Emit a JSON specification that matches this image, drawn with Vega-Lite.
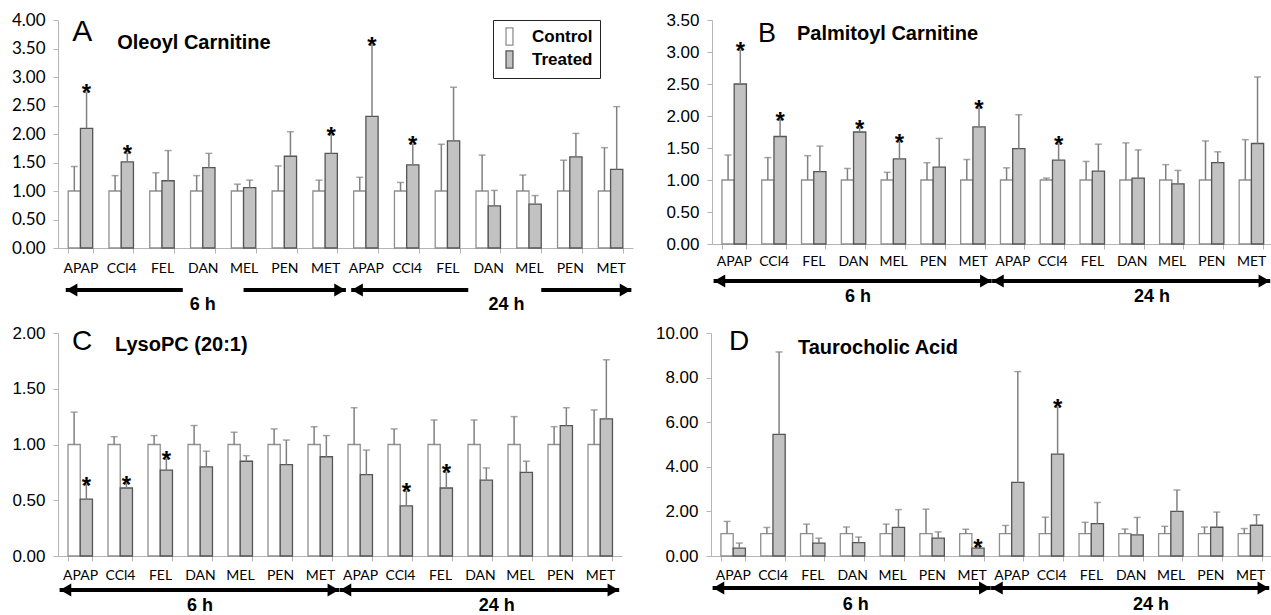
{
"$schema":"https://vega.github.io/schema/vega-lite/v6.json",
"background":"white",
"padding":{"left":11,"top":11,"right":0,"bottom":0},
"datasets":{
"bars":[
{"p":"A","c":"6h|APAP","g":"Control","v":1,"e":1.43,"s":0},{"p":"A","c":"6h|APAP","g":"Treated","v":2.10,"e":2.73,"s":1},
{"p":"A","c":"6h|CCl4","g":"Control","v":1,"e":1.27,"s":0},{"p":"A","c":"6h|CCl4","g":"Treated","v":1.51,"e":1.66,"s":1},
{"p":"A","c":"6h|FEL","g":"Control","v":1,"e":1.32,"s":0},{"p":"A","c":"6h|FEL","g":"Treated","v":1.18,"e":1.71,"s":0},
{"p":"A","c":"6h|DAN","g":"Control","v":1,"e":1.27,"s":0},{"p":"A","c":"6h|DAN","g":"Treated","v":1.41,"e":1.66,"s":0},
{"p":"A","c":"6h|MEL","g":"Control","v":1,"e":1.12,"s":0},{"p":"A","c":"6h|MEL","g":"Treated","v":1.06,"e":1.19,"s":0},
{"p":"A","c":"6h|PEN","g":"Control","v":1,"e":1.44,"s":0},{"p":"A","c":"6h|PEN","g":"Treated","v":1.61,"e":2.04,"s":0},
{"p":"A","c":"6h|MET","g":"Control","v":1,"e":1.19,"s":0},{"p":"A","c":"6h|MET","g":"Treated","v":1.66,"e":1.99,"s":1},
{"p":"A","c":"24h|APAP","g":"Control","v":1,"e":1.24,"s":0},{"p":"A","c":"24h|APAP","g":"Treated","v":2.31,"e":3.56,"s":1},
{"p":"A","c":"24h|CCl4","g":"Control","v":1,"e":1.15,"s":0},{"p":"A","c":"24h|CCl4","g":"Treated","v":1.46,"e":1.82,"s":1},
{"p":"A","c":"24h|FEL","g":"Control","v":1,"e":1.82,"s":0},{"p":"A","c":"24h|FEL","g":"Treated","v":1.88,"e":2.82,"s":0},
{"p":"A","c":"24h|DAN","g":"Control","v":1,"e":1.63,"s":0},{"p":"A","c":"24h|DAN","g":"Treated","v":0.74,"e":1.01,"s":0},
{"p":"A","c":"24h|MEL","g":"Control","v":1,"e":1.28,"s":0},{"p":"A","c":"24h|MEL","g":"Treated","v":0.77,"e":0.92,"s":0},
{"p":"A","c":"24h|PEN","g":"Control","v":1,"e":1.54,"s":0},{"p":"A","c":"24h|PEN","g":"Treated","v":1.60,"e":2.01,"s":0},
{"p":"A","c":"24h|MET","g":"Control","v":1,"e":1.76,"s":0},{"p":"A","c":"24h|MET","g":"Treated","v":1.38,"e":2.48,"s":0},
{"p":"B","c":"6h|APAP","g":"Control","v":1,"e":1.39,"s":0},{"p":"B","c":"6h|APAP","g":"Treated","v":2.50,"e":3.03,"s":1},
{"p":"B","c":"6h|CCl4","g":"Control","v":1,"e":1.35,"s":0},{"p":"B","c":"6h|CCl4","g":"Treated","v":1.68,"e":1.94,"s":1},
{"p":"B","c":"6h|FEL","g":"Control","v":1,"e":1.38,"s":0},{"p":"B","c":"6h|FEL","g":"Treated","v":1.13,"e":1.53,"s":0},
{"p":"B","c":"6h|DAN","g":"Control","v":1,"e":1.18,"s":0},{"p":"B","c":"6h|DAN","g":"Treated","v":1.75,"e":1.81,"s":1},
{"p":"B","c":"6h|MEL","g":"Control","v":1,"e":1.12,"s":0},{"p":"B","c":"6h|MEL","g":"Treated","v":1.33,"e":1.60,"s":1},
{"p":"B","c":"6h|PEN","g":"Control","v":1,"e":1.27,"s":0},{"p":"B","c":"6h|PEN","g":"Treated","v":1.20,"e":1.65,"s":0},
{"p":"B","c":"6h|MET","g":"Control","v":1,"e":1.32,"s":0},{"p":"B","c":"6h|MET","g":"Treated","v":1.83,"e":2.12,"s":1},
{"p":"B","c":"24h|APAP","g":"Control","v":1,"e":1.19,"s":0},{"p":"B","c":"24h|APAP","g":"Treated","v":1.49,"e":2.02,"s":0},
{"p":"B","c":"24h|CCl4","g":"Control","v":1,"e":1.03,"s":0},{"p":"B","c":"24h|CCl4","g":"Treated","v":1.31,"e":1.56,"s":1},
{"p":"B","c":"24h|FEL","g":"Control","v":1,"e":1.29,"s":0},{"p":"B","c":"24h|FEL","g":"Treated","v":1.14,"e":1.56,"s":0},
{"p":"B","c":"24h|DAN","g":"Control","v":1,"e":1.58,"s":0},{"p":"B","c":"24h|DAN","g":"Treated","v":1.03,"e":1.47,"s":0},
{"p":"B","c":"24h|MEL","g":"Control","v":1,"e":1.24,"s":0},{"p":"B","c":"24h|MEL","g":"Treated","v":0.94,"e":1.15,"s":0},
{"p":"B","c":"24h|PEN","g":"Control","v":1,"e":1.61,"s":0},{"p":"B","c":"24h|PEN","g":"Treated","v":1.27,"e":1.44,"s":0},
{"p":"B","c":"24h|MET","g":"Control","v":1,"e":1.63,"s":0},{"p":"B","c":"24h|MET","g":"Treated","v":1.57,"e":2.61,"s":0},
{"p":"C","c":"6h|APAP","g":"Control","v":1,"e":1.29,"s":0},{"p":"C","c":"6h|APAP","g":"Treated","v":0.51,"e":0.64,"s":1},
{"p":"C","c":"6h|CCl4","g":"Control","v":1,"e":1.07,"s":0},{"p":"C","c":"6h|CCl4","g":"Treated","v":0.61,"e":0.65,"s":1},
{"p":"C","c":"6h|FEL","g":"Control","v":1,"e":1.08,"s":0},{"p":"C","c":"6h|FEL","g":"Treated","v":0.77,"e":0.87,"s":1},
{"p":"C","c":"6h|DAN","g":"Control","v":1,"e":1.17,"s":0},{"p":"C","c":"6h|DAN","g":"Treated","v":0.80,"e":0.94,"s":0},
{"p":"C","c":"6h|MEL","g":"Control","v":1,"e":1.11,"s":0},{"p":"C","c":"6h|MEL","g":"Treated","v":0.85,"e":0.90,"s":0},
{"p":"C","c":"6h|PEN","g":"Control","v":1,"e":1.14,"s":0},{"p":"C","c":"6h|PEN","g":"Treated","v":0.82,"e":1.04,"s":0},
{"p":"C","c":"6h|MET","g":"Control","v":1,"e":1.16,"s":0},{"p":"C","c":"6h|MET","g":"Treated","v":0.89,"e":1.08,"s":0},
{"p":"C","c":"24h|APAP","g":"Control","v":1,"e":1.33,"s":0},{"p":"C","c":"24h|APAP","g":"Treated","v":0.73,"e":0.95,"s":0},
{"p":"C","c":"24h|CCl4","g":"Control","v":1,"e":1.14,"s":0},{"p":"C","c":"24h|CCl4","g":"Treated","v":0.45,"e":0.58,"s":1},
{"p":"C","c":"24h|FEL","g":"Control","v":1,"e":1.22,"s":0},{"p":"C","c":"24h|FEL","g":"Treated","v":0.61,"e":0.75,"s":1},
{"p":"C","c":"24h|DAN","g":"Control","v":1,"e":1.22,"s":0},{"p":"C","c":"24h|DAN","g":"Treated","v":0.68,"e":0.79,"s":0},
{"p":"C","c":"24h|MEL","g":"Control","v":1,"e":1.25,"s":0},{"p":"C","c":"24h|MEL","g":"Treated","v":0.75,"e":0.85,"s":0},
{"p":"C","c":"24h|PEN","g":"Control","v":1,"e":1.16,"s":0},{"p":"C","c":"24h|PEN","g":"Treated","v":1.17,"e":1.33,"s":0},
{"p":"C","c":"24h|MET","g":"Control","v":1,"e":1.31,"s":0},{"p":"C","c":"24h|MET","g":"Treated","v":1.23,"e":1.76,"s":0},
{"p":"D","c":"6h|APAP","g":"Control","v":1,"e":1.55,"s":0},{"p":"D","c":"6h|APAP","g":"Treated","v":0.35,"e":0.58,"s":0},
{"p":"D","c":"6h|CCl4","g":"Control","v":1,"e":1.28,"s":0},{"p":"D","c":"6h|CCl4","g":"Treated","v":5.45,"e":9.15,"s":0},
{"p":"D","c":"6h|FEL","g":"Control","v":1,"e":1.43,"s":0},{"p":"D","c":"6h|FEL","g":"Treated","v":0.58,"e":0.80,"s":0},
{"p":"D","c":"6h|DAN","g":"Control","v":1,"e":1.30,"s":0},{"p":"D","c":"6h|DAN","g":"Treated","v":0.60,"e":0.85,"s":0},
{"p":"D","c":"6h|MEL","g":"Control","v":1,"e":1.43,"s":0},{"p":"D","c":"6h|MEL","g":"Treated","v":1.28,"e":2.08,"s":0},
{"p":"D","c":"6h|PEN","g":"Control","v":1,"e":2.10,"s":0},{"p":"D","c":"6h|PEN","g":"Treated","v":0.80,"e":1.08,"s":0},
{"p":"D","c":"6h|MET","g":"Control","v":1,"e":1.20,"s":0},{"p":"D","c":"6h|MET","g":"Treated","v":0.35,"e":0.40,"s":1},
{"p":"D","c":"24h|APAP","g":"Control","v":1,"e":1.37,"s":0},{"p":"D","c":"24h|APAP","g":"Treated","v":3.30,"e":8.27,"s":0},
{"p":"D","c":"24h|CCl4","g":"Control","v":1,"e":1.74,"s":0},{"p":"D","c":"24h|CCl4","g":"Treated","v":4.57,"e":6.67,"s":1},
{"p":"D","c":"24h|FEL","g":"Control","v":1,"e":1.51,"s":0},{"p":"D","c":"24h|FEL","g":"Treated","v":1.45,"e":2.40,"s":0},
{"p":"D","c":"24h|DAN","g":"Control","v":1,"e":1.21,"s":0},{"p":"D","c":"24h|DAN","g":"Treated","v":0.95,"e":1.73,"s":0},
{"p":"D","c":"24h|MEL","g":"Control","v":1,"e":1.33,"s":0},{"p":"D","c":"24h|MEL","g":"Treated","v":2.00,"e":2.96,"s":0},
{"p":"D","c":"24h|PEN","g":"Control","v":1,"e":1.30,"s":0},{"p":"D","c":"24h|PEN","g":"Treated","v":1.29,"e":1.97,"s":0},
{"p":"D","c":"24h|MET","g":"Control","v":1,"e":1.23,"s":0},{"p":"D","c":"24h|MET","g":"Treated","v":1.38,"e":1.85,"s":0}
],
"arrows":[
{"p":"A","t":"6 h","seg":"L","from":"6h|APAP","to":"6h|FEL","hl":1,"hr":0},
{"p":"A","t":"6 h","seg":"R","from":"6h|MEL","to":"6h|MET","hl":0,"hr":1},
{"p":"A","t":"24 h","seg":"L","from":"24h|APAP","to":"24h|FEL","hl":1,"hr":0},
{"p":"A","t":"24 h","seg":"R","from":"24h|MEL","to":"24h|MET","hl":0,"hr":1},
{"p":"B","t":"6 h","seg":"F","from":"6h|APAP","to":"6h|MET","hl":1,"hr":1},
{"p":"B","t":"24 h","seg":"F","from":"24h|APAP","to":"24h|MET","hl":1,"hr":1},
{"p":"C","t":"6 h","seg":"F","from":"6h|APAP","to":"6h|MET","hl":1,"hr":1},
{"p":"C","t":"24 h","seg":"F","from":"24h|APAP","to":"24h|MET","hl":1,"hr":1},
{"p":"D","t":"6 h","seg":"F","from":"6h|APAP","to":"6h|MET","hl":1,"hr":1},
{"p":"D","t":"24 h","seg":"F","from":"24h|APAP","to":"24h|MET","hl":1,"hr":1}
],
"times":[
{"p":"A","t":"6 h","mid":"6h|DAN"},{"p":"A","t":"24 h","mid":"24h|DAN"},
{"p":"B","t":"6 h","mid":"6h|DAN"},{"p":"B","t":"24 h","mid":"24h|DAN"},
{"p":"C","t":"6 h","mid":"6h|DAN"},{"p":"C","t":"24 h","mid":"24h|DAN"},
{"p":"D","t":"6 h","mid":"6h|DAN"},{"p":"D","t":"24 h","mid":"24h|DAN"}
],
"titles":[
{"p":"A","letter":"A","name":"Oleoyl Carnitine"},
{"p":"B","letter":"B","name":"Palmitoyl Carnitine"},
{"p":"C","letter":"C","name":"LysoPC (20:1)"},
{"p":"D","letter":"D","name":"Taurocholic Acid"}
]
},
"spacing":10,
"resolve":{"scale":{"fill":"independent","stroke":"independent"},"legend":{"fill":"independent","stroke":"independent"}},
"vconcat":[
{"hconcat":[
{"width":575,"height":228,
"layer":[
{"data":{"name":"bars"},"transform":[{"filter":"datum.p=='A'"}],
"mark":{"type":"bar","strokeWidth":1.3},
"encoding":{
"x":{"field":"c","type":"nominal","title":null,"scale":{"domain":["6h|APAP","6h|CCl4","6h|FEL","6h|DAN","6h|MEL","6h|PEN","6h|MET","24h|APAP","24h|CCl4","24h|FEL","24h|DAN","24h|MEL","24h|PEN","24h|MET"],"paddingInner":0.4,"paddingOuter":0.25},"axis":{"labelExpr":"split(datum.value,'|')[1]","tickBand":"extent","labelPadding":8}},
"xOffset":{"field":"g","type":"nominal","scale":{"domain":["Control","Treated"],"paddingInner":0,"paddingOuter":0}},
"y":{"field":"v","type":"quantitative","title":null,"scale":{"domain":[0,4],"nice":false},"axis":{"values":[0,0.5,1,1.5,2,2.5,3,3.5,4],"format":".2f","labelFont":"Lato"}},
"fill":{"field":"g","type":"nominal","scale":{"domain":["Control","Treated"],"range":["#ffffff","#c2c2c2"]},"legend":{"orient":"none","legendX":435,"legendY":0,"title":null,"strokeColor":"#222222","fillColor":"#ffffff","padding":7,"symbolType":"M-0.4,-1H0.4V1H-0.4Z","symbolSize":300,"symbolStrokeColor":"#333333","symbolStrokeWidth":1.3,"labelFont":"Liberation Sans","labelFontWeight":"bold","labelFontSize":17,"labelOffset":13,"rowPadding":0}},
"stroke":{"field":"g","type":"nominal","scale":{"domain":["Control","Treated"],"range":["#8f8f8f","#555555"]},"legend":null}}},
{"data":{"name":"bars"},"transform":[{"filter":"datum.p=='A'"}],
"mark":{"type":"rule","color":"#808080","strokeWidth":1.5},
"encoding":{"x":{"field":"c","type":"nominal","title":null},"xOffset":{"field":"g","type":"nominal"},"y":{"field":"v","type":"quantitative","title":null,"axis":{"values":[0,0.5,1,1.5,2,2.5,3,3.5,4],"format":".2f","labelFont":"Lato"}},"y2":{"field":"e"}}},
{"data":{"name":"bars"},"transform":[{"filter":"datum.p=='A'"}],
"mark":{"type":"tick","color":"#808080","size":7,"thickness":1.5},
"encoding":{"x":{"field":"c","type":"nominal","title":null},"xOffset":{"field":"g","type":"nominal"},"y":{"field":"e","type":"quantitative","title":null,"axis":{"values":[0,0.5,1,1.5,2,2.5,3,3.5,4],"format":".2f","labelFont":"Lato"}}}},
{"data":{"name":"bars"},"transform":[{"filter":"datum.p=='A' && datum.s==1"}],
"mark":{"type":"text","text":"*","fontSize":24,"fontWeight":"bold","baseline":"alphabetic","dy":9,"font":"Liberation Sans","color":"#000000"},
"encoding":{"x":{"field":"c","type":"nominal","title":null},"xOffset":{"field":"g","type":"nominal"},"y":{"field":"e","type":"quantitative","title":null,"axis":{"values":[0,0.5,1,1.5,2,2.5,3,3.5,4],"format":".2f","labelFont":"Lato"}}}},
{"data":{"name":"arrows"},"transform":[{"filter":"datum.p=='A' && datum.seg=='L'"}],
"mark":{"type":"rule","color":"#000000","strokeWidth":4,"yOffset":42},
"encoding":{"x":{"field":"from","type":"nominal","bandPosition":-0.1,"title":null},"x2":{"field":"to","bandPosition":1.35},"y":{"datum":0,"title":null,"axis":{"values":[0,0.5,1,1.5,2,2.5,3,3.5,4],"format":".2f","labelFont":"Lato"}}}},
{"data":{"name":"arrows"},"transform":[{"filter":"datum.p=='A' && datum.seg=='R' && datum.t=='6 h'"}],
"mark":{"type":"rule","color":"#000000","strokeWidth":4,"yOffset":42},
"encoding":{"x":{"field":"from","type":"nominal","bandPosition":0.5,"title":null},"x2":{"field":"to","bandPosition":1.35},"y":{"datum":0,"title":null,"axis":{"values":[0,0.5,1,1.5,2,2.5,3,3.5,4],"format":".2f","labelFont":"Lato"}}}},
{"data":{"name":"arrows"},"transform":[{"filter":"datum.p=='A' && datum.seg=='R' && datum.t=='24 h'"}],
"mark":{"type":"rule","color":"#000000","strokeWidth":4,"yOffset":42},
"encoding":{"x":{"field":"from","type":"nominal","bandPosition":1.0,"title":null},"x2":{"field":"to","bandPosition":1.35},"y":{"datum":0,"title":null,"axis":{"values":[0,0.5,1,1.5,2,2.5,3,3.5,4],"format":".2f","labelFont":"Lato"}}}},
{"data":{"name":"arrows"},"transform":[{"filter":"datum.p=='A' && datum.hl==1"}],
"mark":{"type":"point","shape":"triangle-left","size":170,"filled":true,"color":"#000000","opacity":1,"xOffset":6,"yOffset":42},
"encoding":{"x":{"field":"from","type":"nominal","bandPosition":-0.1,"title":null},"y":{"datum":0,"title":null,"axis":{"values":[0,0.5,1,1.5,2,2.5,3,3.5,4],"format":".2f","labelFont":"Lato"}}}},
{"data":{"name":"arrows"},"transform":[{"filter":"datum.p=='A' && datum.hr==1"}],
"mark":{"type":"point","shape":"triangle-right","size":170,"filled":true,"color":"#000000","opacity":1,"xOffset":-6,"yOffset":42},
"encoding":{"x":{"field":"to","type":"nominal","bandPosition":1.35,"title":null},"y":{"datum":0,"title":null,"axis":{"values":[0,0.5,1,1.5,2,2.5,3,3.5,4],"format":".2f","labelFont":"Lato"}}}},
{"data":{"name":"times"},"transform":[{"filter":"datum.p=='A' && datum.t=='6 h'"}],
"mark":{"type":"text","fontSize":18,"fontWeight":"bold","font":"Liberation Sans","baseline":"middle","dy":57,"color":"#000000"},
"encoding":{"x":{"field":"mid","type":"nominal","bandPosition":0.5,"title":null},"y":{"datum":0,"title":null,"axis":{"values":[0,0.5,1,1.5,2,2.5,3,3.5,4],"format":".2f","labelFont":"Lato"}},"text":{"field":"t"}}},
{"data":{"name":"times"},"transform":[{"filter":"datum.p=='A' && datum.t=='24 h'"}],
"mark":{"type":"text","fontSize":18,"fontWeight":"bold","font":"Liberation Sans","baseline":"middle","dy":57,"color":"#000000"},
"encoding":{"x":{"field":"mid","type":"nominal","bandPosition":1.25,"title":null},"y":{"datum":0,"title":null,"axis":{"values":[0,0.5,1,1.5,2,2.5,3,3.5,4],"format":".2f","labelFont":"Lato"}},"text":{"field":"t"}}},
{"data":{"name":"titles"},"transform":[{"filter":"datum.p=='A'"}],
"mark":{"type":"text","fontSize":30,"font":"Liberation Sans","align":"left","baseline":"middle","dx":4,"dy":12,"color":"#000000"},
"encoding":{"x":{"datum":"6h|APAP","type":"nominal","bandPosition":0,"title":null},"y":{"datum":4,"title":null,"axis":{"values":[0,0.5,1,1.5,2,2.5,3,3.5,4],"format":".2f","labelFont":"Lato"}},"text":{"field":"letter"}}},
{"data":{"name":"titles"},"transform":[{"filter":"datum.p=='A'"}],
"mark":{"type":"text","fontSize":20,"fontWeight":"bold","font":"Liberation Sans","align":"left","baseline":"middle","dx":49,"dy":23,"color":"#000000"},
"encoding":{"x":{"datum":"6h|APAP","type":"nominal","bandPosition":0,"title":null},"y":{"datum":4,"title":null,"axis":{"values":[0,0.5,1,1.5,2,2.5,3,3.5,4],"format":".2f","labelFont":"Lato"}},"text":{"field":"name"}}}
]},
{"width":561,"height":224,
"layer":[
{"data":{"name":"bars"},"transform":[{"filter":"datum.p=='B'"}],
"mark":{"type":"bar","strokeWidth":1.3},
"encoding":{
"x":{"field":"c","type":"nominal","title":null,"scale":{"domain":["6h|APAP","6h|CCl4","6h|FEL","6h|DAN","6h|MEL","6h|PEN","6h|MET","24h|APAP","24h|CCl4","24h|FEL","24h|DAN","24h|MEL","24h|PEN","24h|MET"],"paddingInner":0.4,"paddingOuter":0.25},"axis":{"labelExpr":"split(datum.value,'|')[1]","tickBand":"extent","labelPadding":5}},
"xOffset":{"field":"g","type":"nominal","scale":{"domain":["Control","Treated"],"paddingInner":0,"paddingOuter":0}},
"y":{"field":"v","type":"quantitative","title":null,"scale":{"domain":[0,3.5],"nice":false},"axis":{"values":[0,0.5,1,1.5,2,2.5,3,3.5],"format":".2f"}},
"fill":{"field":"g","type":"nominal","scale":{"domain":["Control","Treated"],"range":["#ffffff","#c2c2c2"]},"legend":null},
"stroke":{"field":"g","type":"nominal","scale":{"domain":["Control","Treated"],"range":["#8f8f8f","#555555"]},"legend":null}}},
{"data":{"name":"bars"},"transform":[{"filter":"datum.p=='B'"}],
"mark":{"type":"rule","color":"#808080","strokeWidth":1.5},
"encoding":{"x":{"field":"c","type":"nominal","title":null},"xOffset":{"field":"g","type":"nominal"},"y":{"field":"v","type":"quantitative","title":null,"axis":{"values":[0,0.5,1,1.5,2,2.5,3,3.5],"format":".2f"}},"y2":{"field":"e"}}},
{"data":{"name":"bars"},"transform":[{"filter":"datum.p=='B'"}],
"mark":{"type":"tick","color":"#808080","size":7,"thickness":1.5},
"encoding":{"x":{"field":"c","type":"nominal","title":null},"xOffset":{"field":"g","type":"nominal"},"y":{"field":"e","type":"quantitative","title":null,"axis":{"values":[0,0.5,1,1.5,2,2.5,3,3.5],"format":".2f"}}}},
{"data":{"name":"bars"},"transform":[{"filter":"datum.p=='B' && datum.s==1"}],
"mark":{"type":"text","text":"*","fontSize":24,"fontWeight":"bold","baseline":"alphabetic","dy":9,"font":"Liberation Sans","color":"#000000"},
"encoding":{"x":{"field":"c","type":"nominal","title":null},"xOffset":{"field":"g","type":"nominal"},"y":{"field":"e","type":"quantitative","title":null,"axis":{"values":[0,0.5,1,1.5,2,2.5,3,3.5],"format":".2f"}}}},
{"data":{"name":"arrows"},"transform":[{"filter":"datum.p=='B'"}],
"mark":{"type":"rule","color":"#000000","strokeWidth":4,"yOffset":37},
"encoding":{"x":{"field":"from","type":"nominal","bandPosition":-0.35,"title":null},"x2":{"field":"to","bandPosition":1.3},"y":{"datum":0,"title":null,"axis":{"values":[0,0.5,1,1.5,2,2.5,3,3.5],"format":".2f"}}}},
{"data":{"name":"arrows"},"transform":[{"filter":"datum.p=='B' && datum.hl==1"}],
"mark":{"type":"point","shape":"triangle-left","size":170,"filled":true,"color":"#000000","opacity":1,"xOffset":6,"yOffset":37},
"encoding":{"x":{"field":"from","type":"nominal","bandPosition":-0.35,"title":null},"y":{"datum":0,"title":null,"axis":{"values":[0,0.5,1,1.5,2,2.5,3,3.5],"format":".2f"}}}},
{"data":{"name":"arrows"},"transform":[{"filter":"datum.p=='B' && datum.hr==1"}],
"mark":{"type":"point","shape":"triangle-right","size":170,"filled":true,"color":"#000000","opacity":1,"xOffset":-6,"yOffset":37},
"encoding":{"x":{"field":"to","type":"nominal","bandPosition":1.3,"title":null},"y":{"datum":0,"title":null,"axis":{"values":[0,0.5,1,1.5,2,2.5,3,3.5],"format":".2f"}}}},
{"data":{"name":"times"},"transform":[{"filter":"datum.p=='B' && datum.t=='6 h'"}],
"mark":{"type":"text","fontSize":18,"fontWeight":"bold","font":"Liberation Sans","baseline":"middle","dy":53,"color":"#000000"},
"encoding":{"x":{"field":"mid","type":"nominal","bandPosition":0.7,"title":null},"y":{"datum":0,"title":null,"axis":{"values":[0,0.5,1,1.5,2,2.5,3,3.5],"format":".2f"}},"text":{"field":"t"}}},
{"data":{"name":"times"},"transform":[{"filter":"datum.p=='B' && datum.t=='24 h'"}],
"mark":{"type":"text","fontSize":18,"fontWeight":"bold","font":"Liberation Sans","baseline":"middle","dy":53,"color":"#000000"},
"encoding":{"x":{"field":"mid","type":"nominal","bandPosition":1.35,"title":null},"y":{"datum":0,"title":null,"axis":{"values":[0,0.5,1,1.5,2,2.5,3,3.5],"format":".2f"}},"text":{"field":"t"}}},
{"data":{"name":"titles"},"transform":[{"filter":"datum.p=='B'"}],
"mark":{"type":"text","fontSize":27,"font":"Liberation Sans","align":"left","baseline":"middle","dx":36,"dy":14,"color":"#000000"},
"encoding":{"x":{"datum":"6h|APAP","type":"nominal","bandPosition":0,"title":null},"y":{"datum":3.5,"title":null,"axis":{"values":[0,0.5,1,1.5,2,2.5,3,3.5],"format":".2f"}},"text":{"field":"letter"}}},
{"data":{"name":"titles"},"transform":[{"filter":"datum.p=='B'"}],
"mark":{"type":"text","fontSize":20,"fontWeight":"bold","font":"Liberation Sans","align":"left","baseline":"middle","dx":75,"dy":14,"color":"#000000"},
"encoding":{"x":{"datum":"6h|APAP","type":"nominal","bandPosition":0,"title":null},"y":{"datum":3.5,"title":null,"axis":{"values":[0,0.5,1,1.5,2,2.5,3,3.5],"format":".2f"}},"text":{"field":"name"}}}
]}
],"spacing":31,"resolve":{"scale":{"fill":"independent","stroke":"independent"},"legend":{"fill":"independent","stroke":"independent"}}},
{"hconcat":[
{"width":564,"height":223,
"layer":[
{"data":{"name":"bars"},"transform":[{"filter":"datum.p=='C'"}],
"mark":{"type":"bar","strokeWidth":1.3},
"encoding":{
"x":{"field":"c","type":"nominal","title":null,"scale":{"domain":["6h|APAP","6h|CCl4","6h|FEL","6h|DAN","6h|MEL","6h|PEN","6h|MET","24h|APAP","24h|CCl4","24h|FEL","24h|DAN","24h|MEL","24h|PEN","24h|MET"],"paddingInner":0.4,"paddingOuter":0.25},"axis":{"labelExpr":"split(datum.value,'|')[1]","tickBand":"extent","labelPadding":7}},
"xOffset":{"field":"g","type":"nominal","scale":{"domain":["Control","Treated"],"paddingInner":0,"paddingOuter":0}},
"y":{"field":"v","type":"quantitative","title":null,"scale":{"domain":[0,2],"nice":false},"axis":{"values":[0,0.5,1,1.5,2],"format":".2f"}},
"fill":{"field":"g","type":"nominal","scale":{"domain":["Control","Treated"],"range":["#ffffff","#c2c2c2"]},"legend":null},
"stroke":{"field":"g","type":"nominal","scale":{"domain":["Control","Treated"],"range":["#8f8f8f","#555555"]},"legend":null}}},
{"data":{"name":"bars"},"transform":[{"filter":"datum.p=='C'"}],
"mark":{"type":"rule","color":"#808080","strokeWidth":1.5},
"encoding":{"x":{"field":"c","type":"nominal","title":null},"xOffset":{"field":"g","type":"nominal"},"y":{"field":"v","type":"quantitative","title":null},"y2":{"field":"e"}}},
{"data":{"name":"bars"},"transform":[{"filter":"datum.p=='C'"}],
"mark":{"type":"tick","color":"#808080","size":7,"thickness":1.5},
"encoding":{"x":{"field":"c","type":"nominal","title":null},"xOffset":{"field":"g","type":"nominal"},"y":{"field":"e","type":"quantitative","title":null}}},
{"data":{"name":"bars"},"transform":[{"filter":"datum.p=='C' && datum.s==1"}],
"mark":{"type":"text","text":"*","fontSize":24,"fontWeight":"bold","baseline":"alphabetic","dy":9,"font":"Liberation Sans","color":"#000000"},
"encoding":{"x":{"field":"c","type":"nominal","title":null},"xOffset":{"field":"g","type":"nominal"},"y":{"field":"e","type":"quantitative","title":null}}},
{"data":{"name":"arrows"},"transform":[{"filter":"datum.p=='C'"}],
"mark":{"type":"rule","color":"#000000","strokeWidth":4,"yOffset":34},
"encoding":{"x":{"field":"from","type":"nominal","bandPosition":-0.35,"title":null},"x2":{"field":"to","bandPosition":1.3},"y":{"datum":0,"title":null}}},
{"data":{"name":"arrows"},"transform":[{"filter":"datum.p=='C' && datum.hl==1"}],
"mark":{"type":"point","shape":"triangle-left","size":170,"filled":true,"color":"#000000","opacity":1,"xOffset":6,"yOffset":34},
"encoding":{"x":{"field":"from","type":"nominal","bandPosition":-0.35,"title":null},"y":{"datum":0,"title":null}}},
{"data":{"name":"arrows"},"transform":[{"filter":"datum.p=='C' && datum.hr==1"}],
"mark":{"type":"point","shape":"triangle-right","size":170,"filled":true,"color":"#000000","opacity":1,"xOffset":-6,"yOffset":34},
"encoding":{"x":{"field":"to","type":"nominal","bandPosition":1.3,"title":null},"y":{"datum":0,"title":null}}},
{"data":{"name":"times"},"transform":[{"filter":"datum.p=='C' && datum.t=='6 h'"}],
"mark":{"type":"text","fontSize":18,"fontWeight":"bold","font":"Liberation Sans","baseline":"middle","dy":50,"color":"#000000"},
"encoding":{"x":{"field":"mid","type":"nominal","bandPosition":0.5,"title":null},"y":{"datum":0,"title":null},"text":{"field":"t"}}},
{"data":{"name":"times"},"transform":[{"filter":"datum.p=='C' && datum.t=='24 h'"}],
"mark":{"type":"text","fontSize":18,"fontWeight":"bold","font":"Liberation Sans","baseline":"middle","dy":50,"color":"#000000"},
"encoding":{"x":{"field":"mid","type":"nominal","bandPosition":1.2,"title":null},"y":{"datum":0,"title":null},"text":{"field":"t"}}},
{"data":{"name":"titles"},"transform":[{"filter":"datum.p=='C'"}],
"mark":{"type":"text","fontSize":28,"font":"Liberation Sans","align":"left","baseline":"middle","dx":4,"dy":9,"color":"#000000"},
"encoding":{"x":{"datum":"6h|APAP","type":"nominal","bandPosition":0,"title":null},"y":{"datum":2,"title":null},"text":{"field":"letter"}}},
{"data":{"name":"titles"},"transform":[{"filter":"datum.p=='C'"}],
"mark":{"type":"text","fontSize":20,"fontWeight":"bold","font":"Liberation Sans","align":"left","baseline":"middle","dx":47,"dy":12,"color":"#000000"},
"encoding":{"x":{"datum":"6h|APAP","type":"nominal","bandPosition":0,"title":null},"y":{"datum":2,"title":null},"text":{"field":"name"}}}
]},
{"width":561,"height":223,
"layer":[
{"data":{"name":"bars"},"transform":[{"filter":"datum.p=='D'"}],
"mark":{"type":"bar","strokeWidth":1.3},
"encoding":{
"x":{"field":"c","type":"nominal","title":null,"scale":{"domain":["6h|APAP","6h|CCl4","6h|FEL","6h|DAN","6h|MEL","6h|PEN","6h|MET","24h|APAP","24h|CCl4","24h|FEL","24h|DAN","24h|MEL","24h|PEN","24h|MET"],"paddingInner":0.4,"paddingOuter":0.25},"axis":{"labelExpr":"split(datum.value,'|')[1]","tickBand":"extent","labelPadding":7}},
"xOffset":{"field":"g","type":"nominal","scale":{"domain":["Control","Treated"],"paddingInner":0,"paddingOuter":0}},
"y":{"field":"v","type":"quantitative","title":null,"scale":{"domain":[0,10],"nice":false},"axis":{"values":[0,2,4,6,8,10],"format":".2f"}},
"fill":{"field":"g","type":"nominal","scale":{"domain":["Control","Treated"],"range":["#ffffff","#c2c2c2"]},"legend":null},
"stroke":{"field":"g","type":"nominal","scale":{"domain":["Control","Treated"],"range":["#8f8f8f","#555555"]},"legend":null}}},
{"data":{"name":"bars"},"transform":[{"filter":"datum.p=='D'"}],
"mark":{"type":"rule","color":"#808080","strokeWidth":1.5},
"encoding":{"x":{"field":"c","type":"nominal","title":null},"xOffset":{"field":"g","type":"nominal"},"y":{"field":"v","type":"quantitative","title":null},"y2":{"field":"e"}}},
{"data":{"name":"bars"},"transform":[{"filter":"datum.p=='D'"}],
"mark":{"type":"tick","color":"#808080","size":7,"thickness":1.5},
"encoding":{"x":{"field":"c","type":"nominal","title":null},"xOffset":{"field":"g","type":"nominal"},"y":{"field":"e","type":"quantitative","title":null}}},
{"data":{"name":"bars"},"transform":[{"filter":"datum.p=='D' && datum.s==1"}],
"mark":{"type":"text","text":"*","fontSize":24,"fontWeight":"bold","baseline":"alphabetic","dy":9,"font":"Liberation Sans","color":"#000000"},
"encoding":{"x":{"field":"c","type":"nominal","title":null},"xOffset":{"field":"g","type":"nominal"},"y":{"field":"e","type":"quantitative","title":null}}},
{"data":{"name":"arrows"},"transform":[{"filter":"datum.p=='D'"}],
"mark":{"type":"rule","color":"#000000","strokeWidth":4,"yOffset":32},
"encoding":{"x":{"field":"from","type":"nominal","bandPosition":-0.35,"title":null},"x2":{"field":"to","bandPosition":1.3},"y":{"datum":0,"title":null}}},
{"data":{"name":"arrows"},"transform":[{"filter":"datum.p=='D' && datum.hl==1"}],
"mark":{"type":"point","shape":"triangle-left","size":170,"filled":true,"color":"#000000","opacity":1,"xOffset":6,"yOffset":32},
"encoding":{"x":{"field":"from","type":"nominal","bandPosition":-0.35,"title":null},"y":{"datum":0,"title":null}}},
{"data":{"name":"arrows"},"transform":[{"filter":"datum.p=='D' && datum.hr==1"}],
"mark":{"type":"point","shape":"triangle-right","size":170,"filled":true,"color":"#000000","opacity":1,"xOffset":-6,"yOffset":32},
"encoding":{"x":{"field":"to","type":"nominal","bandPosition":1.3,"title":null},"y":{"datum":0,"title":null}}},
{"data":{"name":"times"},"transform":[{"filter":"datum.p=='D' && datum.t=='6 h'"}],
"mark":{"type":"text","fontSize":18,"fontWeight":"bold","font":"Liberation Sans","baseline":"middle","dy":49,"color":"#000000"},
"encoding":{"x":{"field":"mid","type":"nominal","bandPosition":0.65,"title":null},"y":{"datum":0,"title":null},"text":{"field":"t"}}},
{"data":{"name":"times"},"transform":[{"filter":"datum.p=='D' && datum.t=='24 h'"}],
"mark":{"type":"text","fontSize":18,"fontWeight":"bold","font":"Liberation Sans","baseline":"middle","dy":49,"color":"#000000"},
"encoding":{"x":{"field":"mid","type":"nominal","bandPosition":1.35,"title":null},"y":{"datum":0,"title":null},"text":{"field":"t"}}},
{"data":{"name":"titles"},"transform":[{"filter":"datum.p=='D'"}],
"mark":{"type":"text","fontSize":28,"font":"Liberation Sans","align":"left","baseline":"middle","dx":8,"dy":9,"color":"#000000"},
"encoding":{"x":{"datum":"6h|APAP","type":"nominal","bandPosition":0,"title":null},"y":{"datum":10,"title":null},"text":{"field":"letter"}}},
{"data":{"name":"titles"},"transform":[{"filter":"datum.p=='D'"}],
"mark":{"type":"text","fontSize":20,"fontWeight":"bold","font":"Liberation Sans","align":"left","baseline":"middle","dx":77,"dy":15,"color":"#000000"},
"encoding":{"x":{"datum":"6h|APAP","type":"nominal","bandPosition":0,"title":null},"y":{"datum":10,"title":null},"text":{"field":"name"}}}
]}
],"spacing":33,"resolve":{"scale":{"fill":"independent","stroke":"independent"},"legend":{"fill":"independent","stroke":"independent"}}}
],
"config":{
"view":{"stroke":null},
"axis":{"grid":false,"domainColor":"#b5b5b5","tickColor":"#b5b5b5","tickSize":5,"labelColor":"#000000"},
"axisX":{"labelAngle":0,"labelFont":"Lato","labelFontSize":14,"labelOverlap":false},
"axisY":{"labelFont":"Liberation Sans","labelFontSize":17,"labelPadding":8,"labelOverlap":false}
}
}
